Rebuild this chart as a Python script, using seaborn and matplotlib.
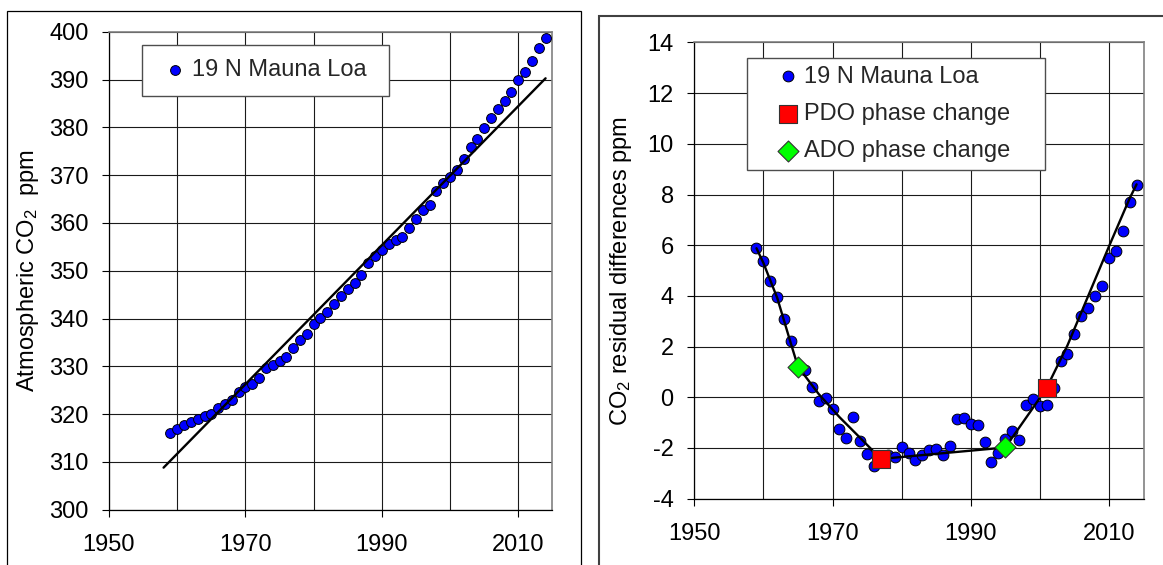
import numpy as np
import pandas as pd
import matplotlib
matplotlib.use("Agg")
import matplotlib.pyplot as plt
import seaborn as sns
from matplotlib.patches import Rectangle
from matplotlib.ticker import FixedLocator, MultipleLocator

# ---------------- data ----------------
years = list(range(1959, 2015))
co2_ppm = [315.97, 316.91, 317.64, 318.45, 318.99, 319.62, 320.04, 321.38, 322.16, 323.04,
           324.62, 325.68, 326.32, 327.45, 329.68, 330.18, 331.11, 332.04, 333.83, 335.40,
           336.84, 338.75, 340.11, 341.45, 343.05, 344.65, 346.12, 347.42, 349.19, 351.57,
           353.12, 354.39, 355.61, 356.45, 357.10, 358.83, 360.82, 362.61, 363.73, 366.70,
           368.38, 369.55, 371.14, 373.28, 375.80, 377.52, 379.80, 381.90, 383.79, 385.60,
           387.43, 389.90, 391.65, 393.85, 396.52, 398.65]
fit_years = [1958, 2014]
fit_ppm = [308.8, 390.25]

residual_ppm = [5.88, 5.36, 4.60, 3.97, 3.08, 2.24, 1.20, 1.08, 0.39, -0.14,
                -0.04, -0.45, -1.24, -1.62, -0.79, -1.71, -2.25, -2.71, -2.45, -2.28,
                -2.36, -1.96, -2.20, -2.46, -2.27, -2.07, -2.04, -2.27, -1.91, -0.86,
                -0.82, -1.05, -1.11, -1.78, -2.57, -2.20, -1.65, -1.34, -1.70, -0.29,
                -0.07, -0.33, -0.29, 0.37, 1.43, 1.71, 2.50, 3.22, 3.54, 4.00,
                4.41, 5.49, 5.78, 6.57, 7.72, 8.36]
curve_years = [1959, 1960, 1962, 1964, 1965, 1968, 1971, 1974, 1977, 1995, 1997, 1999,
               2001, 2004, 2007, 2010, 2013, 2014]
curve_values = [5.88, 5.30, 3.92, 2.10, 1.21, 0.13, -0.78, -1.60, -2.43, -1.98, -1.20, -0.42,
                0.38, 2.05, 4.00, 5.95, 7.85, 8.40]
pdo_years = [1977, 2001]
pdo_values = [-2.43, 0.38]
ado_years = [1965, 1995]
ado_values = [1.21, -1.98]

x_major_ticks = [1950, 1970, 1990, 2010]
x_minor_ticks = [1960, 1980, 2000]
label_series = "19 N Mauna Loa"
label_pdo = "PDO phase change"
label_ado = "ADO phase change"
ylabel_left = "Atmospheric CO$_2$  ppm"
ylabel_right = "CO$_2$ residual differences ppm"

# ---------------- style ----------------
sns.set_theme(style="white")
plt.rcParams["font.family"] = ["Liberation Sans", "DejaVu Sans"]
plt.rcParams["mathtext.default"] = "regular"
plt.rcParams["axes.unicode_minus"] = False
FS = 17

W, H = 1163, 565
fig = plt.figure(figsize=(W / 100, H / 100), dpi=100)
fig.patch.set_facecolor("white")


def px_axes(x0, x1, y0, y1):
    return fig.add_axes([x0 / W, 1 - y1 / H, (x1 - x0) / W, (y1 - y0) / H])


ax1 = px_axes(109, 552.4, 31.7, 509.7)
ax2 = px_axes(694.3, 1143.5, 42.4, 498.7)

# outer frames of the two panels
fig.patches.append(Rectangle((6.8 / W, -0.05), (581.3 - 6.8) / W, 1.05 - 10.7 / H,
                             transform=fig.transFigure, fill=False,
                             edgecolor="black", lw=0.9))
fig.patches.append(Rectangle((599 / W, -0.05), (1180 - 599) / W, 1.05 - 15.7 / H,
                             transform=fig.transFigure, fill=False,
                             edgecolor="#404040", lw=1.5))


def style(ax, ylim, ystep):
    ax.set_xlim(1950, 2015)
    ax.set_ylim(*ylim)
    ax.xaxis.set_major_locator(FixedLocator(x_major_ticks))
    ax.xaxis.set_minor_locator(FixedLocator(x_minor_ticks))
    ax.yaxis.set_major_locator(MultipleLocator(ystep))
    ax.grid(which="both", axis="x", color="#1a1a1a", lw=0.8)
    ax.grid(which="major", axis="y", color="#1a1a1a", lw=0.8)
    ax.set_axisbelow(True)
    ax.tick_params(axis="both", which="major", direction="out", length=5.3, width=0.8,
                   color="black", labelsize=FS, labelcolor="black", bottom=True, left=True)
    ax.tick_params(axis="x", which="major", pad=12.5)
    ax.tick_params(axis="y", which="major", pad=9.5)
    ax.tick_params(axis="x", which="minor", length=0, bottom=False)
    for s in ["left", "bottom"]:
        ax.spines[s].set_color("black")
        ax.spines[s].set_linewidth(0.9)
    for s in ["top", "right"]:
        ax.spines[s].set_color("#808080")
        ax.spines[s].set_linewidth(1.2)
    ax.set_facecolor("white")
    ax.set_xlabel("")


# ---------------- left panel ----------------
df_left = pd.DataFrame({"year": years, "co2": co2_ppm})
sns.scatterplot(data=df_left, x="year", y="co2", ax=ax1, color="#0000ff",
                edgecolor="black", linewidth=0.7, s=50, zorder=3, label=label_series)
sns.lineplot(x=fit_years, y=fit_ppm, ax=ax1, color="black", lw=1.7, zorder=4,
             legend=False)
style(ax1, (300, 400), 10)
ax1.set_ylabel(ylabel_left, fontsize=FS, color="black")
ax1.yaxis.set_label_coords(-0.1525, 0.5)

h, l = ax1.get_legend_handles_labels()
leg1 = ax1.legend(h[:1], l[:1], loc="upper left",
                  bbox_to_anchor=(141.7 / W, 1 - 45 / H, (389 - 141.7) / W, 0.0001),
                  bbox_transform=fig.transFigure, mode="expand", borderaxespad=0,
                  borderpad=0.61, handlelength=1.59, handletextpad=-0.09,
                  fontsize=FS, frameon=True, fancybox=False, framealpha=1,
                  edgecolor="#4d4d4d")
leg1.get_frame().set_linewidth(1.0)

# ---------------- right panel ----------------
df_right = pd.DataFrame({"year": years, "resid": residual_ppm})
sns.scatterplot(data=df_right, x="year", y="resid", ax=ax2, color="#0000ff",
                edgecolor="black", linewidth=0.7, s=60, zorder=3, label=label_series)
sns.lineplot(x=curve_years, y=curve_values, ax=ax2, color="black", lw=1.7, zorder=4,
             legend=False)
sns.scatterplot(x=pdo_years, y=pdo_values, ax=ax2, marker="s", color="#ff0000",
                edgecolor="#333333", linewidth=0.8, s=150, zorder=5, label=label_pdo)
sns.scatterplot(x=ado_years, y=ado_values, ax=ax2, marker="D", color="#00ff00",
                edgecolor="#333333", linewidth=0.8, s=114, zorder=5, label=label_ado)
style(ax2, (-4, 14), 2)
ax2.set_ylabel(ylabel_right, fontsize=FS, color="black")
ax2.yaxis.set_label_coords(-0.134, 0.5)

h, l = ax2.get_legend_handles_labels()
order = [l.index(label_series), l.index(label_pdo), l.index(label_ado)]
leg2 = ax2.legend([h[i] for i in order], [l[i] for i in order], loc="upper left",
                  bbox_to_anchor=(747 / W, 1 - 57.7 / H, (1045 - 747) / W, 0.0001),
                  bbox_transform=fig.transFigure, mode="expand", borderaxespad=0,
                  borderpad=0.34, labelspacing=0.64, handlelength=2.8,
                  handletextpad=-0.73, fontsize=FS, frameon=True, fancybox=False,
                  framealpha=1, edgecolor="#4d4d4d")
leg2.get_frame().set_linewidth(1.0)

fig.savefig("out.png", dpi=100, facecolor="white")
